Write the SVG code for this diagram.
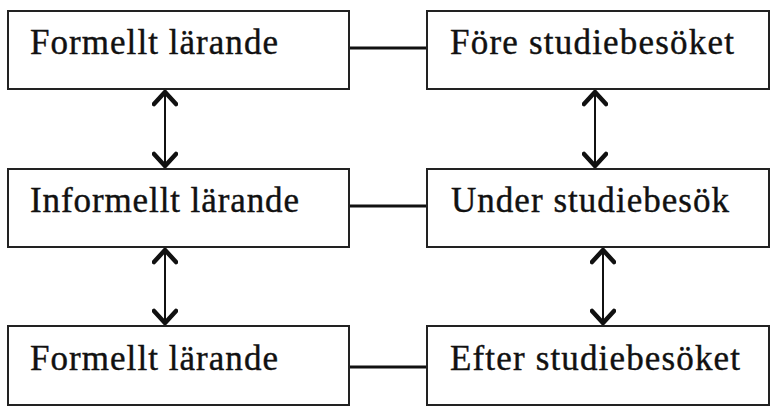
<svg xmlns="http://www.w3.org/2000/svg" width="779" height="417" viewBox="0 0 779 417">
<defs>
<style>
.box{fill:#fff;stroke:#222;stroke-width:2}
.lbl{font-family:"Liberation Serif","DejaVu Serif",serif;font-size:35px;fill:#111;stroke:#111;stroke-width:0.4}
.link{stroke:#111;stroke-width:3;fill:none}
.arr{stroke:#111;stroke-width:2;fill:none}
</style>
<marker id="head" viewBox="0 0 18 26" markerWidth="18" markerHeight="26" refX="15" refY="13" orient="auto-start-reverse" markerUnits="userSpaceOnUse">
<path d="M3,2 L15,13 L3,24" fill="none" stroke="#111" stroke-width="4.5" stroke-linecap="round" stroke-linejoin="round"/>
</marker>
</defs>
<rect width="779" height="417" fill="#fff"/>
<g id="connectors">
<line class="link" x1="349" y1="48" x2="427" y2="48"/>
<line class="link" x1="349" y1="206" x2="427" y2="206"/>
<line class="link" x1="349" y1="367" x2="427" y2="367"/>
<path class="arr" d="M165,92 L165,166" marker-start="url(#head)" marker-end="url(#head)"/>
<path class="arr" d="M165,250 L165,323" marker-start="url(#head)" marker-end="url(#head)"/>
<path class="arr" d="M595,92 L595,166" marker-start="url(#head)" marker-end="url(#head)"/>
<path class="arr" d="M603,250 L603,323" marker-start="url(#head)" marker-end="url(#head)"/>
</g>
<g id="n1"><rect class="box" x="8" y="11" width="341" height="78"/><text class="lbl" x="30" y="54" textLength="248">Formellt lärande</text></g>
<g id="n2"><rect class="box" x="427" y="11" width="342" height="78"/><text class="lbl" x="450" y="54" textLength="284">Före studiebesöket</text></g>
<g id="n3"><rect class="box" x="8" y="169" width="341" height="78"/><text class="lbl" x="30" y="212" textLength="269">Informellt lärande</text></g>
<g id="n4"><rect class="box" x="427" y="169" width="342" height="78"/><text class="lbl" x="451" y="212" textLength="278">Under studiebesök</text></g>
<g id="n5"><rect class="box" x="8" y="326" width="341" height="79"/><text class="lbl" x="30" y="370" textLength="248">Formellt lärande</text></g>
<g id="n6"><rect class="box" x="427" y="326" width="342" height="79"/><text class="lbl" x="450" y="370" textLength="290">Efter studiebesöket</text></g>
</svg>
